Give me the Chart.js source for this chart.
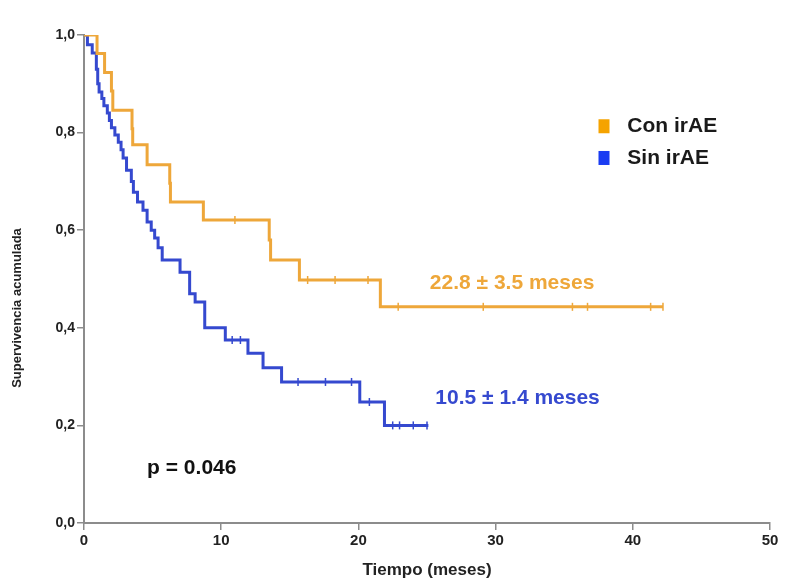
<!DOCTYPE html>
<html>
<head>
<meta charset="utf-8">
<script src="https://cdn.jsdelivr.net/npm/chart.js@4/dist/chart.umd.min.js"></script>
<style>
  html, body { margin: 0; padding: 0; background: #fff; }
  #caja { width: 788px; height: 585px; }
</style>
</head>
<body>
<div id="caja"><canvas id="grafico"></canvas></div>
<script>
// Con irAE: tiempo del evento (meses) y supervivencia despues del evento
const tiemposCon = [0, 0.95, 1.5, 2.0, 2.1, 3.5, 3.55, 4.6, 6.25, 6.3, 8.7, 13.5, 13.6, 15.7, 21.6, 42.2];
const supervCon  = [1, 0.962, 0.923, 0.885, 0.846, 0.808, 0.775, 0.734, 0.696, 0.658, 0.621, 0.58, 0.539, 0.498, 0.443, 0.443];
const censuraCon = [11.0, 16.3, 18.3, 20.7, 22.9, 29.1, 35.6, 36.7, 41.3, 42.2];

// Sin irAE
const tiemposSin = [0, 0.25, 0.6, 0.9, 1.0, 1.1, 1.3, 1.45, 1.7, 1.85, 2.0, 2.25, 2.5, 2.7, 2.85, 3.1, 3.45, 3.6, 3.9, 4.3, 4.6, 4.9, 5.15, 5.4, 5.7, 7.0, 7.7, 8.1, 8.8, 10.3, 11.95, 13.05, 14.4, 20.1, 21.9, 25.1];
const supervSin  = [1, 0.98, 0.963, 0.93, 0.9, 0.883, 0.87, 0.855, 0.84, 0.825, 0.81, 0.795, 0.78, 0.765, 0.748, 0.723, 0.70, 0.678, 0.658, 0.641, 0.617, 0.6, 0.584, 0.564, 0.539, 0.514, 0.47, 0.453, 0.40, 0.375, 0.348, 0.318, 0.289, 0.248, 0.2, 0.2];
const censuraSin = [10.8, 11.4, 15.6, 17.6, 19.5, 20.8, 22.5, 23.0, 24.0, 25.0];

const grupos = ["Con irAE", "Sin irAE"];
const medianas = ["22.8 ± 3.5 meses", "10.5 ± 1.4 meses"];
const textoP = "p = 0.046";

const NARANJA = "#eea73a";
const AZUL = "#3549cf";
const FUENTE = "'Liberation Sans', Arial, sans-serif";

// valor de la curva escalonada en el tiempo t
function valorEn(tiempos, superv, t) {
  let v = superv[0];
  for (let i = 0; i < tiempos.length; i++) {
    if (tiempos[i] <= t) v = superv[i];
  }
  return v;
}

const puntos = (ts, ss) => ts.map((t, i) => ({ x: t, y: ss[i] }));
const marcas = (cs, ts, ss) => cs.map(t => ({ x: t, y: valorEn(ts, ss, t) }));

// textos y leyenda dentro del grafico
const anotaciones = {
  id: "anotaciones",
  afterDraw(chart) {
    const { ctx, scales: { x, y } } = chart;
    ctx.save();
    ctx.textBaseline = "middle";

    ctx.font = "bold 21px " + FUENTE;
    ctx.textAlign = "center";
    ctx.fillStyle = NARANJA;
    ctx.fillText(medianas[0], x.getPixelForValue(31.2), y.getPixelForValue(0.492));
    ctx.fillStyle = AZUL;
    ctx.fillText(medianas[1], x.getPixelForValue(31.6), y.getPixelForValue(0.256));

    ctx.textAlign = "left";
    ctx.fillStyle = "#111";
    ctx.font = "bold 21px " + FUENTE;
    ctx.fillText(textoP, x.getPixelForValue(4.6), y.getPixelForValue(0.113));

    // leyenda
    const colores = ["#f5a300", "#1a3cf2"];
    const filas = [0.813, 0.748];
    ctx.font = "bold 21px " + FUENTE;
    grupos.forEach((g, i) => {
      const py = y.getPixelForValue(filas[i]);
      const px = x.getPixelForValue(37.5);
      ctx.fillStyle = colores[i];
      ctx.fillRect(px, py - 7, 11, 14);
      ctx.fillStyle = "#1a1a1a";
      ctx.fillText(g, x.getPixelForValue(39.6), py);
    });

    // titulo eje Y
    ctx.translate(17, 308);
    ctx.rotate(-Math.PI / 2);
    ctx.textAlign = "center";
    ctx.font = "bold 13px " + FUENTE;
    ctx.fillStyle = "#222";
    ctx.fillText("Supervivencia acumulada", 0, 0);
    ctx.restore();
  }
};

const lineaKM = (datos, color) => ({
  type: "line",
  data: datos,
  borderColor: color,
  borderWidth: 3,
  stepped: true,
  pointRadius: 0,
  fill: false
});

const censura = (datos, color) => ({
  type: "scatter",
  data: datos,
  borderColor: color,
  backgroundColor: color,
  pointStyle: "line",
  rotation: 90,
  pointRadius: 4,
  borderWidth: 1.5,
  showLine: false
});

new Chart(document.getElementById("grafico"), {
  type: "line",
  data: {
    datasets: [
      lineaKM(puntos(tiemposCon, supervCon), NARANJA),
      lineaKM(puntos(tiemposSin, supervSin), AZUL),
      censura(marcas(censuraCon, tiemposCon, supervCon), NARANJA),
      censura(marcas(censuraSin, tiemposSin, supervSin), AZUL)
    ]
  },
  options: {
    responsive: true,
    maintainAspectRatio: false,
    animation: false,
    layout: { padding: { top: 35, right: 18, left: 0, bottom: 0 } },
    plugins: { legend: { display: false }, tooltip: { enabled: false } },
    scales: {
      x: {
        type: "linear",
        min: 0, max: 50,
        afterFit: s => { s.height = 62; },
        border: { display: true, color: "#8c8c8c", width: 2 },
        grid: { drawOnChartArea: false, drawTicks: true, tickLength: 7, color: "#8c8c8c", lineWidth: 1.5 },
        ticks: { stepSize: 10, color: "#222", font: { family: FUENTE, size: 15, weight: "bold" }, padding: 2 },
        title: { display: true, text: "Tiempo (meses)", color: "#222", font: { family: FUENTE, size: 17, weight: "bold" }, padding: { top: 8 } }
      },
      y: {
        min: 0, max: 1,
        afterFit: s => { s.width = 84; },
        border: { display: true, color: "#8c8c8c", width: 2 },
        grid: { drawOnChartArea: false, drawTicks: true, tickLength: 7, color: "#8c8c8c", lineWidth: 1.5 },
        ticks: {
          stepSize: 0.2,
          color: "#222",
          font: { family: FUENTE, size: 14, weight: "bold" },
          padding: 2,
          callback: v => v.toFixed(1).replace(".", ",")
        }
      }
    }
  },
  plugins: [anotaciones]
});
</script>
</body>
</html>
